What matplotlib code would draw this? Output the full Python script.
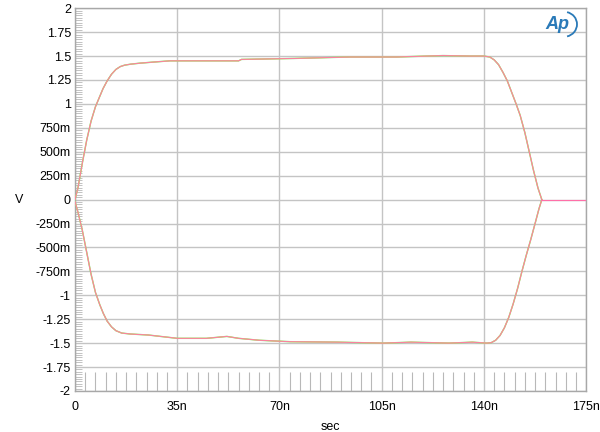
import numpy as np
import matplotlib
matplotlib.use("Agg")
import matplotlib.pyplot as plt
from matplotlib.patches import Arc
from matplotlib.ticker import MultipleLocator

# Square-wave response (time in ns, volts)
upper_t = [0, 1, 2.5, 4, 5.5, 7, 8.5, 9.6, 11, 12.5, 14, 15.5, 17, 19, 22, 26, 32.5, 45, 56, 57, 75, 94,
           110, 126, 135, 140, 142, 143.5, 145, 146.5, 148, 149.5, 151, 152.4, 154, 155.5, 157, 158.5, 159.8]
upper_v = [0, 0.12, 0.38, 0.62, 0.82, 0.97, 1.08, 1.16, 1.24, 1.31, 1.36, 1.39, 1.405, 1.415, 1.425, 1.435, 1.45, 1.45, 1.45, 1.465, 1.475, 1.49,
           1.49, 1.505, 1.50, 1.50, 1.49, 1.46, 1.41, 1.33, 1.24, 1.12, 1.00, 0.88, 0.70, 0.50, 0.30, 0.12, 0]

lower_t = [0, 1, 2.5, 4, 5.5, 7, 8.5, 9.7, 11, 12.5, 14, 16, 19, 25, 35, 45, 52, 56, 63, 73.6, 90,
           105.5, 115, 128, 136, 141, 142.5, 144, 145.5, 147, 148.5, 150, 151.5, 153, 154.5, 156, 157.5, 158.8, 159.8]
lower_v = [-0.02, -0.13, -0.32, -0.55, -0.78, -0.97, -1.10, -1.19, -1.27, -1.33, -1.37, -1.395, -1.405, -1.415, -1.45, -1.45, -1.43, -1.45, -1.47, -1.485, -1.49,
           -1.50, -1.49, -1.50, -1.49, -1.50, -1.495, -1.47, -1.42, -1.34, -1.23, -1.09, -0.93, -0.75, -0.58, -0.42, -0.25, -0.10, 0]

tail_t = [159.8, 175]
tail_v = [0, 0]

y_ticks = [2, 1.75, 1.5, 1.25, 1, 0.75, 0.5, 0.25, 0, -0.25, -0.5, -0.75, -1, -1.25, -1.5, -1.75, -2]
y_labels = ["2", "1.75", "1.5", "1.25", "1", "750m", "500m", "250m", "0", "-250m", "-500m", "-750m",
            "-1", "-1.25", "-1.5", "-1.75", "-2"]
x_ticks = [0, 35, 70, 105, 140, 175]
x_labels = ["0", "35n", "70n", "105n", "140n", "175n"]

# bottom trace drawn widest so its edges peek out under the ones above
trace_colors = ["#6fd66f", "#e8e070", "#ff6fa8"]
trace_widths = [1.0, 0.8, 0.6]

plt.rcParams['font.family'] = ['Liberation Sans', 'DejaVu Sans']

fig = plt.figure(figsize=(6, 4.32), dpi=100)
ax = fig.add_axes([0.125, 0.095, 0.852, 0.886])

for i, (c, w) in enumerate(zip(trace_colors, trace_widths)):
    ax.plot(upper_t, upper_v, color=c, lw=w, zorder=3 + i)
    ax.plot(lower_t, lower_v, color=c, lw=w, zorder=3 + i)
ax.plot(tail_t, tail_v, color="#ff6fa8", lw=0.8, zorder=8)

ax.set_xlim(0, 175)
ax.set_ylim(-2, 2)
ax.set_yticks(y_ticks)
ax.set_yticklabels(y_labels)
ax.set_xticks(x_ticks)
ax.set_xticklabels(x_labels)
ax.xaxis.set_minor_locator(MultipleLocator(3.5))
ax.yaxis.set_minor_locator(MultipleLocator(0.025))

ax.tick_params(axis='both', which='major', length=0, labelsize=9, colors='black')
ax.tick_params(axis='x', which='major', pad=7)
ax.tick_params(axis='y', which='major', pad=3)
ax.tick_params(axis='x', which='minor', direction='in', length=14, width=0.8, color='#b8b8b8')
ax.tick_params(axis='y', which='minor', direction='in', length=5, width=0.6, color='#b8b8b8')

ax.grid(True, which='major', color='#c4c4c4', lw=1.0)
ax.set_axisbelow(True)
for s in ax.spines.values():
    s.set_color('#a8a8a8')
    s.set_linewidth(1.0)

ax.set_ylabel("V", rotation=0, fontsize=9, labelpad=12, va='center')
ax.set_xlabel("sec", fontsize=9, labelpad=6)

# AP logo
ax.text(0.944, 0.958, "Ap", transform=ax.transAxes, fontsize=13, fontstyle='italic',
        fontweight='bold', color='#2a7ab8', ha='center', va='center', zorder=10)
ax.add_patch(Arc((0.957, 0.958), 0.05, 0.065, theta1=-80, theta2=80, transform=ax.transAxes,
                 color='#2a7ab8', lw=1.3, zorder=10))

fig.savefig("out.png", dpi=100)
